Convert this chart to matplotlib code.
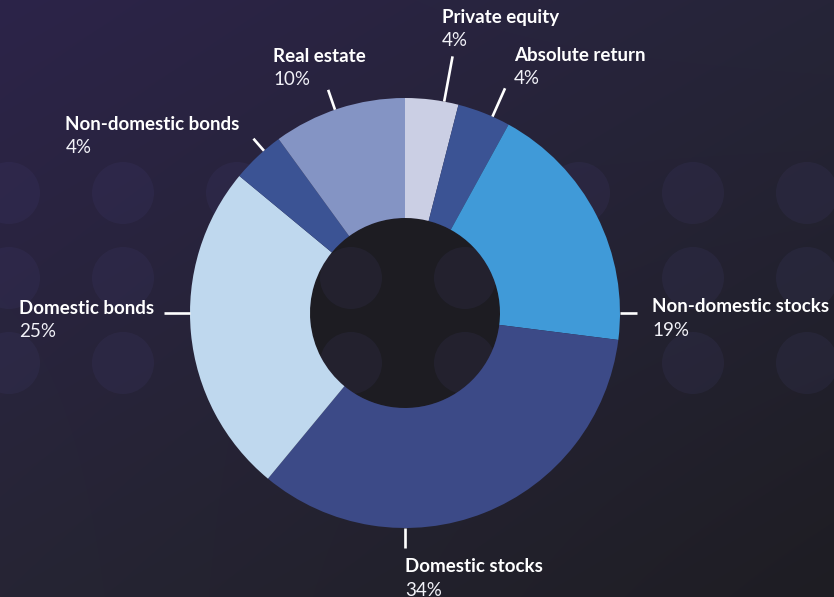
import numpy as np
import matplotlib.pyplot as plt
from matplotlib.patches import Circle

W, H = 834, 597

# allocation shares, clockwise from 12 o'clock
labels = ['Private equity', 'Absolute return', 'Non-domestic stocks',
          'Domestic stocks', 'Domestic bonds', 'Non-domestic bonds', 'Real estate']
shares = [4, 4, 19, 34, 25, 4, 10]
colors = ['#cbcfe4', '#3b5394', '#409ad8', '#3c4a87', '#bfd8ee', '#3b5394', '#8494c4']

# leader lines: angle (deg, clockwise from top) and length in px
leader_angle = [10.5, 24, 90, 180, 270, 319, 341]
leader_len = [46, 31, 17, 20, 26, 16, 21]
# label block offset from the outer end of its leader line (px, y down)
text_offset = [(-11, -39), (9, -33), (15, -6), (0, 19), (-145, -5), (-188, -14), (-55, -33)]

cx, cy = 405, 313          # donut centre in px (y down)
r_out, r_in = 215, 95

fig = plt.figure(figsize=(W / 100, H / 100), dpi=100)
ax = fig.add_axes([0, 0, 1, 1])

# background: purple top-left fading to near-black bottom-right
tl = np.array([44, 35, 73]) / 255
tr = np.array([38, 37, 56]) / 255
bl = np.array([38, 37, 52]) / 255
br = np.array([30, 29, 35]) / 255
ty, tx = np.mgrid[0:1:H * 1j, 0:1:W * 1j]
ty, tx = ty[..., None], tx[..., None]
bg = (tl * (1 - tx) * (1 - ty) + tr * tx * (1 - ty)
      + bl * (1 - tx) * ty + br * tx * ty)
ax.imshow(bg, extent=(0, W, 0, H), origin='upper', zorder=0, aspect='auto')

# dark centre of the donut
ax.add_patch(Circle((cx, H - cy), r_in, facecolor='#1d1c22', edgecolor='none', zorder=1))

# faint dot grid behind the chart
for gx in [9, 123, 237, 351, 465, 579, 693, 807]:
    for gy in [193, 278, 363]:
        ax.add_patch(Circle((gx, H - gy), 31, facecolor='#504b8c',
                            edgecolor='none', alpha=0.12, zorder=2))

wedges, _ = ax.pie(shares, colors=colors, startangle=90, counterclock=False,
                   radius=r_out, center=(cx, H - cy), frame=True,
                   wedgeprops=dict(width=r_out - r_in, linewidth=0))
for w in wedges:
    w.set_zorder(3)

for name, val, ang, ln, (dx, dy) in zip(labels, shares, leader_angle,
                                        leader_len, text_offset):
    a = np.radians(ang)
    ux, uy = np.sin(a), np.cos(a)
    x0, y0 = cx + r_out * ux, H - cy + r_out * uy
    x1, y1 = cx + (r_out + ln) * ux, H - cy + (r_out + ln) * uy
    ax.plot([x0, x1], [y0, y1], color='white', lw=1.9, solid_capstyle='butt', zorder=4)
    tx0, ty0 = x1 + dx, y1 - dy
    ax.text(tx0, ty0, name, color='white', fontsize=13.5, fontweight='bold',
            family='Lato', ha='left', va='center', zorder=5)
    ax.text(tx0, ty0 - 23, f'{val}%', color='#f2f2f8', fontsize=13.5,
            fontweight='normal', family='Lato', ha='left', va='center', zorder=5)

ax.set_xlim(0, W)
ax.set_ylim(0, H)
ax.set_aspect('auto')
ax.axis('off')

fig.savefig('out.png', dpi=100)
